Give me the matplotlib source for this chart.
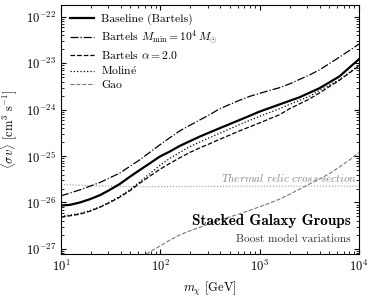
import matplotlib

matplotlib.use("Agg")
import matplotlib.pyplot as plt

plt.rcParams.update({"font.family": ["cmr10", "DejaVu Serif"], "mathtext.fontset": "cm",
                     "axes.formatter.use_mathtext": True, "font.size": 8})

# ---- values ---------------------------------------------------------------
m_base = [10, 12.3, 15.5, 19.6, 24.7, 31, 39, 49.5, 62, 78.5, 99, 125, 157,
          249, 396, 628, 998, 1584, 2514, 3990, 6333, 10000]
sv_base = [8.6e-27, 8.9e-27, 1.0e-26, 1.18e-26, 1.44e-26, 1.87e-26, 2.5e-26,
           3.6e-26, 5.0e-26, 7.0e-26, 9.8e-26, 1.26e-25, 1.66e-25,
           2.63e-25, 4.0e-25, 6.0e-25, 9.1e-25, 1.3e-24, 1.85e-24, 2.9e-24,
           5.2e-24, 1.23e-23]

m_mmin = [10, 15.5, 24.7, 31, 39, 62, 99, 125, 157, 198, 249, 314, 396, 500,
          628, 800, 1000, 1257, 1600, 2000, 3167, 3990, 6333, 10000]
sv_mmin = [1.39e-26, 1.87e-26, 2.7e-26, 3.4e-26, 4.3e-26, 8.3e-26, 1.75e-25,
           2.5e-25, 3.5e-25, 4.6e-25, 6.0e-25, 7.8e-25, 1.05e-24, 1.3e-24,
           1.6e-24, 1.95e-24, 2.25e-24, 2.6e-24, 3.0e-24, 3.6e-24, 5.6e-24,
           7.2e-24, 1.35e-23, 2.6e-23]

m_alpha = [10, 15.5, 19.6, 24.7, 31, 39, 49.5, 62, 78.5, 99, 125, 157, 198,
           249, 314, 396, 628, 1000, 1584, 2000, 3167, 3990, 6333, 10000]
sv_alpha = [4.8e-27, 5.6e-27, 6.5e-27, 7.9e-27, 1.0e-26, 1.3e-26, 1.8e-26,
            2.6e-26, 3.7e-26, 5.2e-26, 7.0e-26, 9.2e-26, 1.2e-25,
            1.5e-25, 1.85e-25, 2.3e-25, 3.5e-25, 5.2e-25, 7.8e-25, 1.05e-24,
            1.7e-24, 2.3e-24, 4.3e-24, 8.8e-24]

m_moline = [10, 15.5, 19.6, 24.7, 31, 39, 49.5, 62, 78.5, 99, 125, 157, 198,
            249, 314, 396, 628, 1000, 1584, 2000, 3167, 3990, 6333, 10000]
sv_moline = [5.0e-27, 5.8e-27, 6.7e-27, 8.1e-27, 1.03e-26, 1.35e-26, 1.9e-26,
             2.8e-26, 4.2e-26, 6.3e-26, 9.0e-26, 1.2e-25, 1.6e-25,
             2.0e-25, 2.5e-25, 3.1e-25, 4.8e-25, 7.2e-25, 1.05e-24, 1.3e-24,
             1.95e-24, 2.6e-24, 4.4e-24, 9.2e-24]

m_gao = [72, 85, 99, 125, 157, 198, 249, 314, 396, 500, 628, 800, 998, 1257,
         1584, 2000, 2514, 3167, 3990, 5027, 6333, 7979, 10000]
sv_gao = [7.8e-28, 9.5e-28, 1.15e-27, 1.55e-27, 2.0e-27, 2.45e-27, 2.9e-27,
          3.5e-27, 4.2e-27, 4.9e-27, 5.7e-27, 6.8e-27, 8.1e-27, 9.7e-27,
          1.18e-26, 1.5e-26, 1.94e-26, 2.5e-26, 3.2e-26, 4.2e-26, 5.8e-26,
          8.2e-26, 1.2e-25]

m_relic = [10, 20, 50, 100, 1000, 10000]
sv_relic = [2.45e-26, 2.3e-26, 2.2e-26, 2.2e-26, 2.25e-26, 2.25e-26]

fig = plt.figure(figsize=(3.74, 2.98), dpi=100)
ax = fig.add_axes([0.163, 0.148, 0.797, 0.835])

ax.plot(m_relic, sv_relic, ls=":", c="#999999", lw=0.8)
ax.plot(m_base, sv_base, c="k", lw=1.6, label="Baseline (Bartels)")
ax.plot(m_mmin, sv_mmin, c="k", lw=0.9, ls="-.",
        label=r"Bartels $M_{\rm min} = 10^4\,M_{\odot}$")
ax.plot(m_alpha, sv_alpha, c="k", lw=0.9, ls="--", label=r"Bartels $\alpha = 2.0$")
ax.plot(m_moline, sv_moline, c="k", lw=0.9, ls=":", label=r"Molin$\mathrm{\acute{e}}$")
ax.plot(m_gao, sv_gao, c="#777777", lw=0.8, ls="--", label="Gao")

ax.set_xscale("log"); ax.set_yscale("log")
ax.set_xlim(10, 1e4)
ax.set_ylim(7.8e-28, 1.8e-22)
ax.set_xlabel(r"$m_\chi$ [GeV]", fontsize=9)
ax.set_ylabel(r"$\langle \sigma v \rangle$ [cm$^3$ s$^{-1}$]", fontsize=9)
ax.tick_params(which="both", direction="in", top=True, right=True, labelsize=9)

ax.text(9.5e3, 2.45e-26, r"$\mathit{Thermal\ relic\ cross\ section}$",
        ha="right", va="bottom", color="#888888", fontsize=8)
ax.text(0.973, 0.133, "Stacked Galaxy Groups", transform=ax.transAxes,
        ha="right", va="center", fontfamily="cmb10", fontsize=11)
ax.text(0.973, 0.06, "Boost model variations", transform=ax.transAxes,
        ha="right", va="center", fontsize=8.2, color="#333333")

ax.legend(loc="upper left", frameon=False, fontsize=8.4, handlelength=2.1,
          handletextpad=0.6, labelspacing=0.28, borderaxespad=0.35)

fig.savefig("out.png", dpi=100)
